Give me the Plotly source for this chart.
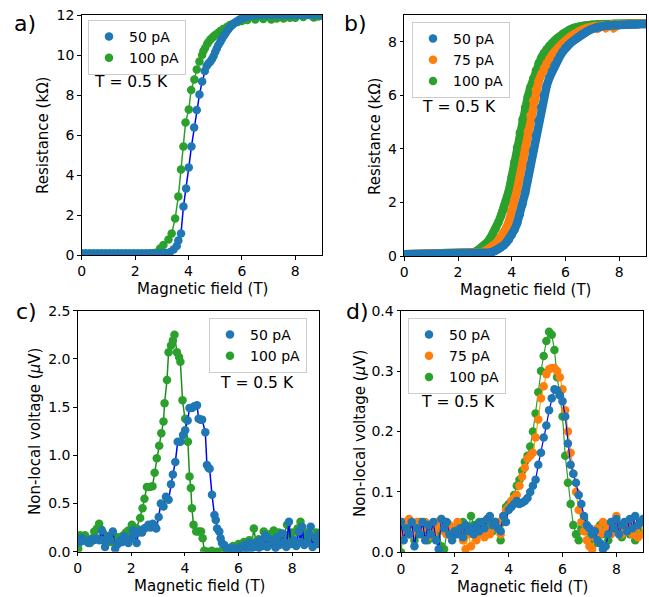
import plotly.graph_objects as go

W, H = 649, 597
FONT = "DejaVu Sans"

# ---------------- data ----------------
FIELD = [0.0, 0.1, 0.2, 0.3, 0.4, 0.5, 0.6, 0.7, 0.8, 0.9,
         1.0, 1.1, 1.2, 1.3, 1.4, 1.5, 1.6, 1.7, 1.8, 1.9,
         2.0, 2.1, 2.2, 2.3, 2.4, 2.5, 2.6, 2.7, 2.8, 2.9,
         3.0, 3.1, 3.2, 3.3, 3.4, 3.5, 3.6, 3.7, 3.8, 3.9,
         4.0, 4.1, 4.2, 4.3, 4.4, 4.5, 4.6, 4.7, 4.8, 4.9,
         5.0, 5.1, 5.2, 5.3, 5.4, 5.5, 5.6, 5.7, 5.8, 5.9,
         6.0, 6.1, 6.2, 6.3, 6.4, 6.5, 6.6, 6.7, 6.8, 6.9,
         7.0, 7.1, 7.2, 7.3, 7.4, 7.5, 7.6, 7.7, 7.8, 7.9,
         8.0, 8.1, 8.2, 8.3, 8.4, 8.5, 8.6, 8.7, 8.8, 8.9,
         9.0]

# panel a: (field T, resistance kOhm)
A_50 = [(0.0, 0.08), (0.15, 0.08), (0.3, 0.08), (0.45, 0.08), (0.6, 0.08), (0.75, 0.08),
        (0.9, 0.08), (1.05, 0.08), (1.2, 0.08), (1.35, 0.08), (1.5, 0.08), (1.65, 0.08),
        (1.8, 0.08), (1.95, 0.08), (2.1, 0.08), (2.25, 0.08), (2.4, 0.08), (2.55, 0.08),
        (2.7, 0.08), (2.85, 0.08), (3.0, 0.09), (3.15, 0.1), (3.3, 0.14), (3.44, 0.28),
        (3.56, 0.45), (3.62, 0.72), (3.72, 1.08), (3.81, 2.42), (3.91, 3.33), (4.01, 4.37),
        (4.11, 5.42), (4.21, 6.37), (4.31, 7.25), (4.41, 8.02), (4.51, 8.67), (4.61, 9.2),
        (4.68, 9.45), (4.75, 9.58), (4.82, 9.68), (4.88, 9.8), (4.94, 9.95), (5.0, 10.15),
        (5.06, 10.33), (5.12, 10.5), (5.19, 10.65), (5.25, 10.8), (5.32, 10.95), (5.38, 11.08),
        (5.44, 11.2), (5.5, 11.3), (5.6, 11.45), (5.7, 11.58), (5.8, 11.68), (5.9, 11.76),
        (6.0, 11.83), (6.15, 11.9), (6.3, 11.95), (6.5, 11.98), (6.7, 12.0), (6.9, 12.0),
        (7.1, 12.0), (7.3, 12.0), (7.5, 12.0), (7.7, 12.0), (7.9, 12.0), (8.1, 12.0),
        (8.3, 12.0), (8.5, 12.0), (8.7, 12.0), (8.9, 12.0), (9.0, 12.0)]
A_100 = [(0.0, 0.08), (0.15, 0.08), (0.3, 0.08), (0.45, 0.08), (0.6, 0.08), (0.75, 0.08),
         (0.9, 0.08), (1.05, 0.08), (1.2, 0.08), (1.35, 0.08), (1.5, 0.08), (1.65, 0.08),
         (1.8, 0.08), (1.95, 0.08), (2.1, 0.08), (2.25, 0.08), (2.4, 0.08), (2.55, 0.09),
         (2.7, 0.1), (2.85, 0.15), (2.94, 0.33), (3.06, 0.5), (3.25, 0.78), (3.37, 1.08),
         (3.5, 1.83), (3.62, 2.92), (3.72, 4.28), (3.81, 5.42), (3.89, 6.62), (4.01, 7.28),
         (4.1, 8.25), (4.22, 8.78), (4.31, 9.28), (4.41, 9.67), (4.51, 10.0), (4.56, 10.2),
         (4.62, 10.35), (4.7, 10.55), (4.75, 10.65), (4.82, 10.78), (4.88, 10.85), (4.94, 10.92),
         (5.0, 11.0), (5.1, 11.1), (5.19, 11.2), (5.3, 11.3), (5.44, 11.4), (5.55, 11.5),
         (5.69, 11.58), (5.85, 11.65), (6.0, 11.7), (6.2, 11.75), (6.5, 11.78), (6.8, 11.8),
         (7.1, 11.78), (7.3, 11.83), (7.56, 11.82), (7.8, 11.86), (8.0, 11.86), (8.3, 11.9),
         (8.69, 11.88), (8.85, 11.93), (9.0, 11.95)]

# panel b: resistance (kOhm) on FIELD grid
B_50 = [0.07, 0.07, 0.07, 0.07, 0.07, 0.07, 0.07, 0.07, 0.07, 0.07,
        0.07, 0.07, 0.07, 0.07, 0.07, 0.07, 0.07, 0.07, 0.07, 0.07,
        0.07, 0.07, 0.07, 0.07, 0.07, 0.07, 0.07, 0.08, 0.08, 0.09,
        0.1, 0.11, 0.13, 0.16, 0.2, 0.25, 0.32, 0.4, 0.5, 0.62,
        0.78, 0.98, 1.22, 1.55, 1.92, 2.35, 2.85, 3.4, 3.95, 4.5,
        5.05, 5.55, 6.0, 6.35, 6.65, 6.9, 7.12, 7.3, 7.47, 7.63,
        7.78, 7.88, 7.96, 8.04, 8.12, 8.2, 8.27, 8.33, 8.39, 8.44,
        8.48, 8.52, 8.55, 8.57, 8.59, 8.6, 8.61, 8.62, 8.62, 8.63,
        8.63, 8.64, 8.64, 8.64, 8.65, 8.65, 8.65, 8.65, 8.66, 8.66,
        8.66]
B_75 = [0.07, 0.07, 0.07, 0.07, 0.07, 0.07, 0.07, 0.07, 0.07, 0.07,
        0.07, 0.07, 0.07, 0.07, 0.07, 0.07, 0.07, 0.07, 0.07, 0.07,
        0.07, 0.07, 0.07, 0.07, 0.07, 0.08, 0.08, 0.09, 0.11, 0.14,
        0.18, 0.23, 0.29, 0.37, 0.46, 0.57, 0.7, 0.86, 1.05, 1.3,
        1.6, 1.97, 2.45, 2.95, 3.45, 4.05, 4.65, 5.25, 5.8, 6.2,
        6.52, 6.78, 7.0, 7.2, 7.36, 7.5, 7.63, 7.75, 7.86, 7.95,
        8.04, 8.12, 8.2, 8.27, 8.33, 8.39, 8.44, 8.48, 8.51, 8.54,
        8.56, 8.58, 8.5, 8.6, 8.6, 8.52, 8.62, 8.63, 8.52, 8.64,
        8.64, 8.65, 8.65, 8.65, 8.66, 8.66, 8.66, 8.66, 8.67, 8.67,
        8.67]
B_100 = [0.07, 0.07, 0.07, 0.07, 0.07, 0.07, 0.07, 0.07, 0.07, 0.07,
         0.07, 0.07, 0.07, 0.07, 0.07, 0.07, 0.07, 0.07, 0.07, 0.07,
         0.07, 0.07, 0.07, 0.08, 0.09, 0.11, 0.14, 0.19, 0.25, 0.32,
         0.41, 0.52, 0.66, 0.83, 1.03, 1.25, 1.5, 1.75, 2.02, 2.45,
         2.95, 3.5, 4.05, 4.6, 5.1, 5.55, 5.95, 6.3, 6.62, 6.93,
         7.2, 7.4, 7.57, 7.72, 7.85, 7.95, 8.05, 8.14, 8.22, 8.3,
         8.36, 8.42, 8.47, 8.51, 8.54, 8.57, 8.59, 8.61, 8.62, 8.63,
         8.64, 8.64, 8.65, 8.65, 8.66, 8.66, 8.66, 8.66, 8.67, 8.67,
         8.67, 8.67, 8.67, 8.68, 8.68, 8.68, 8.68, 8.68, 8.68, 8.68,
         8.68]

# panel c: (field T, non-local voltage uV)
C_50 = [(0.02, 0.1), (0.09, 0.1), (0.15, 0.14), (0.21, 0.12), (0.3, 0.11), (0.4, 0.09),
        (0.5, 0.13), (0.59, 0.12), (0.71, 0.14), (0.8, 0.12), (0.9, 0.22), (0.96, 0.12),
        (1.02, 0.05), (1.1, 0.13), (1.15, 0.16), (1.22, 0.12), (1.31, 0.21), (1.4, 0.03),
        (1.5, 0.08), (1.58, 0.12), (1.66, 0.1), (1.73, 0.16), (1.8, 0.12), (1.89, 0.09),
        (1.98, 0.14), (2.06, 0.22), (2.13, 0.18), (2.2, 0.09), (2.27, 0.2), (2.33, 0.22),
        (2.4, 0.2), (2.48, 0.24), (2.56, 0.25), (2.64, 0.28), (2.72, 0.25), (2.8, 0.29),
        (2.87, 0.27), (2.93, 0.24), (3.02, 0.36), (3.1, 0.5), (3.2, 0.47), (3.29, 0.57),
        (3.39, 0.54), (3.48, 0.7), (3.55, 0.8), (3.64, 0.93), (3.73, 1.14), (3.83, 1.14),
        (3.93, 1.21), (4.01, 1.26), (4.1, 1.36), (4.17, 1.49), (4.26, 1.49), (4.35, 1.51),
        (4.45, 1.52), (4.51, 1.38), (4.58, 1.37), (4.64, 1.37), (4.76, 1.24), (4.82, 0.9),
        (4.88, 0.87), (4.92, 0.86), (5.01, 0.59), (5.1, 0.38), (5.15, 0.33), (5.2, 0.24),
        (5.28, 0.21), (5.33, 0.14), (5.38, 0.09), (5.47, 0.07), (5.57, 0.02), (5.7, 0.04),
        (5.8, 0.01), (5.9, 0.03), (6.0, 0.02), (6.07, 0.05), (6.15, 0.02), (6.22, 0.07),
        (6.3, 0.04), (6.38, 0.09), (6.45, 0.03), (6.52, 0.08), (6.6, 0.05), (6.69, 0.1),
        (6.76, 0.04), (6.83, 0.12), (6.9, 0.06), (7.0, 0.17), (7.07, 0.05), (7.14, 0.13),
        (7.22, 0.08), (7.31, 0.12), (7.38, 0.04), (7.45, 0.15), (7.52, 0.07), (7.63, 0.19),
        (7.7, 0.1), (7.78, 0.05), (7.88, 0.31), (7.95, 0.08), (8.06, 0.12), (8.15, 0.06),
        (8.25, 0.21), (8.32, 0.1), (8.37, 0.26), (8.45, 0.07), (8.56, 0.1), (8.62, 0.18),
        (8.69, 0.26), (8.76, 0.05), (8.87, 0.14), (8.95, 0.08), (9.0, 0.18)]
C_100 = [(0.02, 0.03), (0.09, 0.17), (0.18, 0.15), (0.27, 0.17), (0.37, 0.12), (0.46, 0.09),
         (0.55, 0.14), (0.62, 0.21), (0.72, 0.24), (0.8, 0.29), (0.88, 0.23), (0.96, 0.19),
         (1.05, 0.15), (1.15, 0.12), (1.24, 0.1), (1.33, 0.17), (1.42, 0.12), (1.52, 0.15),
         (1.62, 0.13), (1.71, 0.17), (1.8, 0.2), (1.89, 0.22), (2.02, 0.28), (2.1, 0.25),
         (2.2, 0.24), (2.33, 0.35), (2.42, 0.45), (2.49, 0.55), (2.58, 0.67), (2.68, 0.67),
         (2.79, 0.68), (2.87, 0.82), (2.95, 0.97), (3.04, 1.1), (3.12, 1.23), (3.2, 1.35),
         (3.24, 1.54), (3.33, 1.78), (3.39, 2.07), (3.48, 2.14), (3.55, 2.19), (3.61, 2.25),
         (3.7, 2.07), (3.78, 2.02), (3.83, 1.97), (3.91, 1.57), (4.01, 1.38), (4.11, 1.14),
         (4.17, 0.78), (4.22, 0.66), (4.26, 0.45), (4.32, 0.28), (4.42, 0.21), (4.51, 0.21),
         (4.6, 0.21), (4.66, 0.14), (4.72, 0.01), (4.85, 0.0), (5.0, 0.01), (5.2, 0.0),
         (5.4, 0.02), (5.6, 0.03), (5.8, 0.06), (6.0, 0.08), (6.1, 0.05), (6.2, 0.1),
         (6.3, 0.06), (6.4, 0.12), (6.5, 0.09), (6.57, 0.24), (6.65, 0.1), (6.75, 0.13),
         (6.85, 0.08), (6.94, 0.21), (7.05, 0.12), (7.15, 0.18), (7.25, 0.09), (7.31, 0.22),
         (7.4, 0.14), (7.5, 0.2), (7.6, 0.12), (7.7, 0.18), (7.81, 0.28), (7.9, 0.15),
         (8.0, 0.2), (8.1, 0.1), (8.2, 0.24), (8.31, 0.31), (8.4, 0.14), (8.5, 0.2),
         (8.6, 0.1), (8.69, 0.17), (8.8, 0.12), (8.9, 0.2), (9.0, 0.1)]

# panel d: non-local voltage (uV) on FIELD grid
D_50 = [0.05, 0.02, 0.04, 0.03, 0.05, 0.01, 0.04, 0.03, 0.05, 0.02,
        0.045, 0.03, 0.05, 0.02, 0.005, 0.055, 0.04, 0.05, 0.03, 0.02,
        0.035, 0.03, 0.04, 0.025, 0.045, 0.035, 0.04, 0.03, 0.045, 0.035,
        0.05, 0.04, 0.055, 0.06, 0.045, 0.05, 0.04, 0.035, 0.06, 0.05,
        0.07, 0.075, 0.08, 0.085, 0.08, 0.082, 0.085, 0.09, 0.1, 0.11,
        0.12, 0.145, 0.165, 0.19, 0.21, 0.235, 0.255, 0.27, 0.268, 0.26,
        0.25, 0.225, 0.18, 0.145, 0.13, 0.115, 0.095, 0.08, 0.06, 0.045,
        0.04, 0.03, 0.035, 0.02, 0.015, 0.005, 0.01, 0.03, 0.05, 0.04,
        0.055, 0.03, 0.045, 0.05, 0.035, 0.055, 0.04, 0.06, 0.045, 0.05,
        0.055]
D_75 = [0.03, 0.05, 0.04, 0.055, 0.03, 0.045, 0.05, 0.035, 0.04, 0.05,
        0.025, 0.045, 0.03, 0.05, 0.04, 0.055, 0.035, 0.03, 0.045, 0.04,
        0.03, 0.05, 0.035, 0.02, 0.005, 0.03, 0.01, 0.035, 0.02, 0.03,
        0.04, 0.025, 0.035, 0.03, 0.045, 0.04, 0.05, 0.03, 0.06, 0.07,
        0.075, 0.085, 0.09, 0.095, 0.11, 0.125, 0.14, 0.155, 0.16, 0.165,
        0.19, 0.22, 0.255, 0.275, 0.295, 0.303, 0.305, 0.305, 0.3, 0.29,
        0.27, 0.235, 0.2, 0.165, 0.13, 0.1, 0.07, 0.05, 0.035, 0.02,
        0.01, 0.005, 0.025, 0.04, 0.03, 0.05, 0.035, 0.045, 0.03, 0.05,
        0.06, 0.04, 0.03, 0.045, 0.035, 0.05, 0.03, 0.04, 0.025, 0.05,
        0.03]
D_100 = [0.0, 0.04, 0.05, 0.03, 0.045, 0.02, 0.04, 0.05, 0.03, 0.04,
         0.02, 0.035, 0.045, 0.03, 0.04, 0.01, 0.005, 0.03, 0.04, 0.035,
         0.03, 0.045, 0.04, 0.05, 0.03, 0.04, 0.06, 0.045, 0.035, 0.05,
         0.04, 0.03, 0.045, 0.04, 0.035, 0.05, 0.04, 0.02, 0.05, 0.075,
         0.08, 0.085, 0.095, 0.11, 0.12, 0.135, 0.15, 0.16, 0.175, 0.2,
         0.23, 0.265, 0.3, 0.325, 0.35, 0.365, 0.36, 0.335, 0.29, 0.26,
         0.225, 0.16, 0.115, 0.08, 0.045, 0.03, 0.02, 0.04, 0.055, 0.035,
         0.02, 0.03, 0.015, 0.035, 0.045, 0.03, 0.04, 0.02, 0.045, 0.035,
         0.05, 0.04, 0.025, 0.045, 0.04, 0.03, 0.045, 0.02, 0.035, 0.03,
         0.055]

X_TICKS = [0, 2, 4, 6, 8]
A_Y_TICKS = [0, 2, 4, 6, 8, 10, 12]
B_Y_TICKS = [0, 2, 4, 6, 8]
C_Y_TICKS = [0.0, 0.5, 1.0, 1.5, 2.0, 2.5]
D_Y_TICKS = [0.0, 0.1, 0.2, 0.3, 0.4]

BLUE, ORANGE, GREEN = "#1f77b4", "#ff7f0e", "#2ca02c"
LINE_BLUE, LINE_ORANGE, LINE_GREEN = "#0000ff", "#ffa500", "#2ca02c"


def px(x):
    return x / W


def py(y):
    return 1 - y / H


fig = go.Figure()


def add(xs, ys, name, mcolor, lcolor, ax, legend, rank, lw=1.5, ms=8.5, band=False):
    xa = "x" if ax == 1 else f"x{ax}"
    ya = "y" if ax == 1 else f"y{ax}"
    if band:
        fig.add_trace(go.Scatter(x=xs, y=ys, mode="lines", xaxis=xa, yaxis=ya,
                                 line=dict(color=mcolor, width=ms), showlegend=False,
                                 hoverinfo="skip"))
    elif lcolor:
        fig.add_trace(go.Scatter(x=xs, y=ys, mode="lines", xaxis=xa, yaxis=ya,
                                 line=dict(color=lcolor, width=lw), showlegend=False,
                                 hoverinfo="skip"))
    fig.add_trace(go.Scatter(x=xs, y=ys, mode="markers", xaxis=xa, yaxis=ya, name=name,
                             marker=dict(color=mcolor, size=ms), legend=legend,
                             legendrank=rank))


def unzip(pairs):
    return [p[0] for p in pairs], [p[1] for p in pairs]


# a
ax_, ay_ = unzip(A_100)
add(ax_, ay_, "100 pA", GREEN, LINE_GREEN, 1, "legend", 3)
ax_, ay_ = unzip(A_50)
add(ax_, ay_, "50 pA", BLUE, LINE_BLUE, 1, "legend", 1)
# b
add(FIELD, B_100, "100 pA", GREEN, None, 2, "legend2", 3, band=True)
add(FIELD, B_75, "75 pA", ORANGE, None, 2, "legend2", 2, band=True)
add(FIELD, B_50, "50 pA", BLUE, None, 2, "legend2", 1, band=True)
# c
cx, cy = unzip(C_100)
add(cx, cy, "100 pA", GREEN, "#1e8c1e", 3, "legend3", 3)
cx, cy = unzip(C_50)
add(cx, cy, "50 pA", BLUE, LINE_BLUE, 3, "legend3", 1)
# d
add(FIELD, D_100, "100 pA", GREEN, LINE_GREEN, 4, "legend4", 3, lw=1.2, ms=8.5)
add(FIELD, D_75, "75 pA", ORANGE, LINE_ORANGE, 4, "legend4", 2, lw=1.2, ms=8.5)
add(FIELD, D_50, "50 pA", BLUE, LINE_BLUE, 4, "legend4", 1, lw=1.2, ms=8.5)

TICK_SIZE = 14
TITLE_SIZE = 15
TF = dict(family=FONT, size=TICK_SIZE, color="black")
common = dict(showline=True, linecolor="black", linewidth=1, mirror=True, ticks="outside",
              ticklen=3.5, tickwidth=1, tickcolor="black", showgrid=False, zeroline=False,
              tickfont=TF, automargin=False)

layout_axes = {
    "xaxis": dict(domain=[px(81.7), px(322)], range=[0, 9], tickvals=X_TICKS, anchor="y", **common),
    "yaxis": dict(domain=[py(255), py(15)], range=[0, 12], tickvals=A_Y_TICKS, anchor="x", **common),
    "xaxis2": dict(domain=[px(404.3), px(646)], range=[0, 9], tickvals=X_TICKS, anchor="y2", **common),
    "yaxis2": dict(domain=[py(256), py(15)], range=[0, 9.0], tickvals=B_Y_TICKS, anchor="x2", **common),
    "xaxis3": dict(domain=[px(77.7), px(319)], range=[0, 9], tickvals=X_TICKS, anchor="y3", **common),
    "yaxis3": dict(domain=[py(551.7), py(310.7)], range=[0, 2.5], tickvals=C_Y_TICKS,
                   tickformat=".1f", anchor="x3", **common),
    "xaxis4": dict(domain=[px(401), px(643.3)], range=[0, 9], tickvals=X_TICKS, anchor="y4", **common),
    "yaxis4": dict(domain=[py(552.3), py(310.7)], range=[0, 0.4], tickvals=D_Y_TICKS,
                   tickformat=".1f", anchor="x4", **common),
}

LF = dict(family=FONT, size=14, color="black")
leg = dict(xanchor="left", yanchor="top", bgcolor="rgba(255,255,255,0.8)",
           bordercolor="#cccccc", borderwidth=1, font=LF, itemsizing="trace",
           tracegroupgap=0)

annotations = []


def text(x, y, s, size=TITLE_SIZE, angle=0, xanchor="center"):
    annotations.append(dict(x=px(x), y=py(y), xref="paper", yref="paper", text=s,
                            showarrow=False, textangle=angle, xanchor=xanchor,
                            yanchor="middle", font=dict(family=FONT, size=size, color="black")))


# panel labels
text(12, 24, "a)", 22, xanchor="left")
text(342, 23, "b)", 22, xanchor="left")
text(14, 311, "c)", 22, xanchor="left")
text(344, 311, "d)", 22, xanchor="left")
# temperature notes
text(92, 82, "T = 0.5 K", 15.5, xanchor="left")
text(420, 107, "T = 0.5 K", 15.5, xanchor="left")
text(218, 383, "T = 0.5 K", 15.5, xanchor="left")
text(419, 402, "T = 0.5 K", 15.5, xanchor="left")
# axis titles
text(202, 289, "Magnetic field (T)")
text(525, 290, "Magnetic field (T)")
text(199, 586, "Magnetic field (T)")
text(522, 587, "Magnetic field (T)")
text(43, 136, "Resistance (kΩ)", angle=-90)
text(375, 137, "Resistance (kΩ)", angle=-90)
text(35, 432, "Non-local voltage (<i>μ</i>V)", angle=-90)
text(360, 433, "Non-local voltage (<i>μ</i>V)", angle=-90)

fig.update_layout(
    width=W, height=H, margin=dict(l=0, r=0, t=0, b=0, autoexpand=False),
    paper_bgcolor="white", plot_bgcolor="white",
    font=dict(family=FONT, size=TITLE_SIZE, color="black"),
    showlegend=True,
    legend=dict(x=px(88), y=py(20), **leg),
    legend2=dict(x=px(412), y=py(22), **leg),
    legend3=dict(x=px(209), y=py(318), **leg),
    legend4=dict(x=px(408), y=py(318), **leg),
    annotations=annotations,
    **layout_axes,
)

fig.write_html("out.html", config={"displayModeBar": False},
               post_script="document.body.style.margin='0px';document.body.style.overflow='hidden';")
